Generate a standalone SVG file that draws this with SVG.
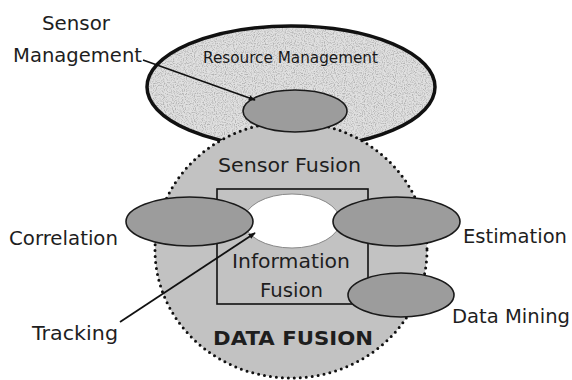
<svg xmlns="http://www.w3.org/2000/svg" width="572" height="380" viewBox="0 0 572 380">
<style>
.lbl{font-family:"DejaVu Sans","Verdana",sans-serif;font-size:19px;fill:#1e1e1e}
.gray{fill:#9c9c9c;stroke:#1a1a1a;stroke-width:1.6}
.conn{stroke:#111;stroke-width:1.8;fill:none}
</style>
<defs>
<filter id="speckle" x="0" y="0" width="1" height="1">
<feTurbulence type="fractalNoise" baseFrequency="0.9" numOctaves="1" seed="4" result="n"/>
<feColorMatrix in="n" type="matrix" values="0 0 0 0 0.45  0 0 0 0 0.45  0 0 0 0 0.45  3.5 0 0 0 -1.55" result="dots"/>
<feComposite in="dots" in2="SourceGraphic" operator="in" result="d2"/>
<feMerge><feMergeNode in="SourceGraphic"/><feMergeNode in="d2"/></feMerge>
</filter>
<marker id="arr" viewBox="0 0 10 10" refX="9" refY="5" markerWidth="7" markerHeight="7" orient="auto" markerUnits="userSpaceOnUse">
<path d="M0,1 L10,5 L0,9 z" fill="#111"/>
</marker>
</defs>

<g id="resource-management">
<ellipse cx="291" cy="87" rx="144" ry="61" fill="#e0e0e0" filter="url(#speckle)"/>
<ellipse cx="291" cy="87" rx="144" ry="61" fill="none" stroke="#111" stroke-width="3.5"/>
<text x="290.5" y="63" text-anchor="middle" style="font-family:'DejaVu Sans',sans-serif;font-size:15px;fill:#181818" textLength="175" lengthAdjust="spacingAndGlyphs">Resource Management</text>
</g>

<g id="data-fusion">
<ellipse cx="291" cy="250" rx="136" ry="128" fill="#c2c2c2" stroke="#111" stroke-width="3" stroke-dasharray="0 6" stroke-linecap="round"/>
<text x="293" y="345" text-anchor="middle" class="lbl" style="font-weight:bold" textLength="160" lengthAdjust="spacingAndGlyphs">DATA FUSION</text>
</g>

<g id="sensor-management">
<ellipse cx="295" cy="111" rx="52" ry="21" class="gray"/>
</g>

<g id="sensor-fusion">
<text x="289.5" y="172" text-anchor="middle" class="lbl" textLength="143" lengthAdjust="spacingAndGlyphs">Sensor Fusion</text>
</g>

<g id="information-fusion">
<rect x="217" y="189" width="151" height="115" fill="none" stroke="#111" stroke-width="1.6"/>
<ellipse cx="292" cy="221" rx="48" ry="27" fill="#fff" stroke="#888" stroke-width="1"/>
<text x="291" y="268" text-anchor="middle" class="lbl" textLength="118" lengthAdjust="spacingAndGlyphs">Information</text>
<text x="291.5" y="297" text-anchor="middle" class="lbl" textLength="63" lengthAdjust="spacingAndGlyphs">Fusion</text>
</g>

<g id="correlation">
<ellipse cx="189.5" cy="221.5" rx="63.5" ry="24.5" class="gray"/>
<text x="9" y="245" class="lbl" textLength="109" lengthAdjust="spacingAndGlyphs">Correlation</text>
</g>

<g id="estimation">
<ellipse cx="396.5" cy="221.5" rx="63.5" ry="24.5" class="gray"/>
<text x="463" y="243" class="lbl" textLength="104" lengthAdjust="spacingAndGlyphs">Estimation</text>
</g>

<g id="data-mining">
<ellipse cx="401" cy="295" rx="53" ry="22" class="gray"/>
<text x="452" y="323" class="lbl" textLength="118" lengthAdjust="spacingAndGlyphs">Data Mining</text>
</g>

<g id="labels">
<text x="76" y="30" text-anchor="middle" class="lbl" textLength="68" lengthAdjust="spacingAndGlyphs">Sensor</text>
<text x="13" y="62" class="lbl" textLength="129" lengthAdjust="spacingAndGlyphs">Management</text>
<text x="32" y="340" class="lbl" textLength="86" lengthAdjust="spacingAndGlyphs">Tracking</text>
</g>

<g id="connectors">
<line x1="143" y1="60" x2="255" y2="100" class="conn" marker-end="url(#arr)"/>
<line x1="120" y1="322" x2="255" y2="233" class="conn" marker-end="url(#arr)"/>
</g>
</svg>
